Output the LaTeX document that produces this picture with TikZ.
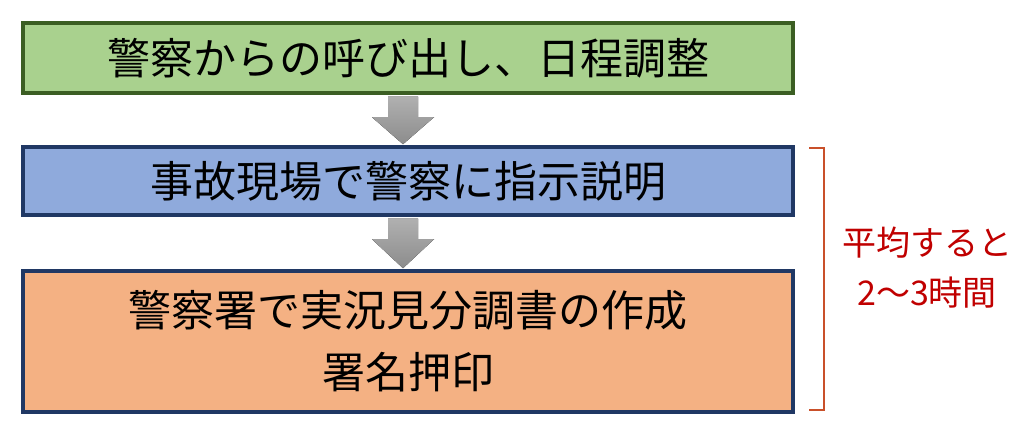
\documentclass[tikz,border=0pt]{standalone}
\usepackage{fontspec}
\setmainfont{Noto Sans CJK JP}
\usetikzlibrary{calc}
\definecolor{gfill}{HTML}{A9D18E}
\definecolor{gline}{HTML}{3B5E23}
\definecolor{bfill}{HTML}{8FAADC}
\definecolor{bline}{HTML}{203864}
\definecolor{ofill}{HTML}{F4B183}
\definecolor{brk}{HTML}{C9502A}
\definecolor{rtxt}{HTML}{C00000}
\definecolor{arrA}{HTML}{B0B0B0}
\definecolor{arrB}{HTML}{8C8C8C}
\tikzset{
  boxstyle/.style={draw, line width=3.5pt, minimum width=770pt, inner sep=0pt, align=center, font=\fontsize{43}{62}\selectfont},
  blockarrow/.style={top color=arrA, bottom color=arrB, draw=none},
}
\begin{document}
\begin{tikzpicture}[x=1pt,y=1pt]
\useasboundingbox (0,0) rectangle (1024,436);
\node[boxstyle, fill=gfill, draw=gline, minimum height=70pt] (b1) at (408,378) {警察からの呼び出し、日程調整};
\node[boxstyle, fill=bfill, draw=bline, minimum height=68pt] (b2) at (408,255) {事故現場で警察に指示説明};
\node[boxstyle, fill=ofill, draw=bline, minimum height=141pt] (b3) at (408,94.5) {警察署で実況見分調書の作成\\署名押印};
% block arrows
\coordinate (a1s) at ($(b1.south)+(-5,-2)$);
\coordinate (a1t) at ($(b2.north)+(-5,1)$);
\fill[blockarrow] ($(a1s)+(-15,0)$) -- ($(a1s)+(15,0)$) -- ($(a1t)+(15,27)$) -- ($(a1t)+(31,27)$) -- (a1t) -- ($(a1t)+(-31,27)$) -- ($(a1t)+(-15,27)$) -- cycle;
\coordinate (a2s) at ($(b2.south)+(-5,-2)$);
\coordinate (a2t) at ($(b3.north)+(-5,1)$);
\fill[blockarrow] ($(a2s)+(-15,0)$) -- ($(a2s)+(15,0)$) -- ($(a2t)+(15,29)$) -- ($(a2t)+(31,29)$) -- (a2t) -- ($(a2t)+(-31,29)$) -- ($(a2t)+(-15,29)$) -- cycle;
% bracket
\coordinate (bt) at (809,288);
\coordinate (bb) at (809,26);
\draw[brk, line width=2.2pt] (bt) -- ++(15,0) -- ($(bb)+(15,0)$) -- (bb);
\node[text=rtxt, align=center, font=\fontsize{34}{50}\selectfont] (lbl) at (927,168) {平均すると\\2～3時間};
\end{tikzpicture}
\end{document}
